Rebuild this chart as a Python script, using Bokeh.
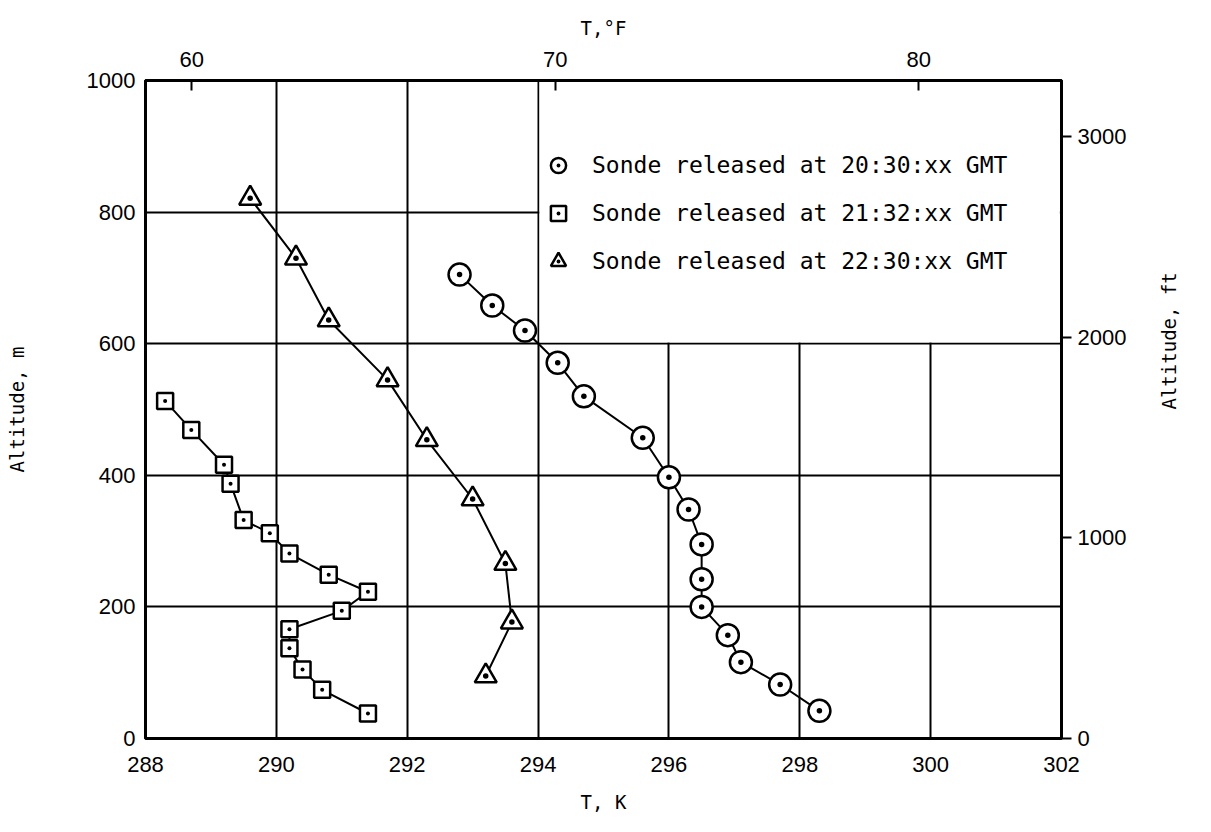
import math
from bokeh.plotting import figure
from bokeh.models import (LinearAxis, Range1d, FixedTicker, Legend, LegendItem,
                          BoxAnnotation)
from bokeh.embed import file_html
from bokeh.resources import INLINE

# ---------------- data ----------------
t_2030 = [292.8, 293.3, 293.8, 294.3, 294.7, 295.6, 296.0, 296.3, 296.5, 296.5, 296.5, 296.9, 297.1, 297.7, 298.3]
alt_2030 = [705, 658, 620, 571, 520, 457, 397, 348, 295, 242, 200, 157, 116, 82, 42]

t_2132 = [288.3, 288.7, 289.2, 289.3, 289.5, 289.9, 290.2, 290.8, 291.4, 291.0, 290.2, 290.2, 290.4, 290.7, 291.4]
alt_2132 = [513, 469, 416, 387, 332, 312, 281, 249, 223, 194, 166, 137, 105, 74, 38]

t_2230 = [289.6, 290.3, 290.8, 291.7, 292.3, 293.0, 293.5, 293.6, 293.2]
alt_2230 = [821, 730, 636, 545, 454, 364, 266, 177, 95]

labels = ["Sonde released at 20:30:xx GMT",
          "Sonde released at 21:32:xx GMT",
          "Sonde released at 22:30:xx GMT"]

x_ticks_k = [288, 290, 292, 294, 296, 298, 300, 302]
y_ticks_m = [0, 200, 400, 600, 800, 1000]
top_ticks_f = [60, 70, 80]
right_ticks_ft = [0, 1000, 2000, 3000]


def k_to_f(k):
    return (k - 273.15) * 9.0 / 5.0 + 32.0


X0, X1 = 288, 302
Y0, Y1 = 0, 1000

TICK_FONT = "Liberation Sans"
MONO = "DejaVu Sans Mono"

p = figure(width=1195, height=820, x_range=Range1d(X0, X1), y_range=Range1d(Y0, Y1),
           output_backend="svg", toolbar_location=None,
           min_border_left=145, min_border_right=134, min_border_top=80, min_border_bottom=82)

bx = p.below[0]
ly = p.left[0]

p.extra_x_ranges = {"F": Range1d(k_to_f(X0), k_to_f(X1))}
p.extra_y_ranges = {"ft": Range1d(Y0 / 0.3048, Y1 / 0.3048)}

p.outline_line_color = "black"
p.outline_line_width = 3
p.background_fill_color = "white"
p.border_fill_color = "white"

# grids
p.xgrid.ticker = FixedTicker(ticks=x_ticks_k)
p.ygrid.ticker = FixedTicker(ticks=y_ticks_m)
for g in (p.xgrid, p.ygrid):
    g.grid_line_color = "black"
    g.grid_line_width = 2
    g.grid_line_alpha = 1.0

# axes
bx.ticker = FixedTicker(ticks=x_ticks_k)
ly.ticker = FixedTicker(ticks=y_ticks_m)
bx.axis_label = "T, K"
ly.axis_label = "Altitude, m"

top_ax = LinearAxis(x_range_name="F", ticker=FixedTicker(ticks=top_ticks_f), axis_label="T,°F")
p.add_layout(top_ax, "above")
right_ax = LinearAxis(y_range_name="ft", ticker=FixedTicker(ticks=right_ticks_ft),
                      axis_label="Altitude, ft")
p.add_layout(right_ax, "right")

for ax in (bx, ly, top_ax, right_ax):
    ax.major_label_text_font = TICK_FONT
    ax.major_label_text_font_size = "22px"
    ax.major_label_text_color = "black"
    ax.axis_label_text_font = MONO
    ax.axis_label_text_font_size = "19px"
    ax.axis_label_text_font_style = "normal"
    ax.axis_label_text_color = "black"
    ax.minor_tick_line_color = None
    ax.axis_line_width = 3
    ax.axis_line_color = "black"
    ax.major_tick_line_color = "black"
    ax.major_tick_line_width = 2

bx.major_tick_in = 0
bx.major_tick_out = 0
bx.major_label_standoff = 18
bx.axis_label_standoff = 16

ly.major_tick_in = 0
ly.major_tick_out = 0
ly.major_label_standoff = 10
ly.axis_label_standoff = 56

top_ax.major_tick_in = 10
top_ax.major_tick_out = 0
top_ax.major_label_standoff = 14
top_ax.axis_label_standoff = 10

right_ax.major_tick_in = 0
right_ax.major_tick_out = 10
right_ax.major_label_standoff = 6
right_ax.axis_label_standoff = 40
if "axis_label_orientation" in LinearAxis.properties():
    right_ax.axis_label_orientation = math.pi / 2

# blank area behind the key (grid cells 294-302 K, 600-1000 m)
p.add_layout(BoxAnnotation(left=294.02, right=301.975, bottom=602, top=997.7,
                           fill_color="white", fill_alpha=1.0, line_color=None,
                           level="underlay"))

# series
series = [
    (t_2030, alt_2030, "circle_dot", 22),
    (t_2132, alt_2132, "square_dot", 16),
    (t_2230, alt_2230, "triangle_dot", 22),
]
items = []
for (tx, ay, mk, sz), lab in zip(series, labels):
    p.line(tx, ay, line_color="black", line_width=2)
    r = p.scatter(tx, ay, marker=mk, size=sz, fill_color="white", line_color="black",
                  line_width=2.5)
    items.append(LegendItem(label=lab, renderers=[r]))

legend = Legend(items=items, location=(393, 458), margin=0, padding=0,
                glyph_width=40, glyph_height=38, label_height=38, spacing=10,
                label_standoff=14, label_text_font=MONO, label_text_font_size="23px",
                label_text_color="black", label_text_baseline="middle",
                background_fill_alpha=0.0, border_line_color=None)
p.add_layout(legend)

open("out.html", "w").write(file_html(p, INLINE))
